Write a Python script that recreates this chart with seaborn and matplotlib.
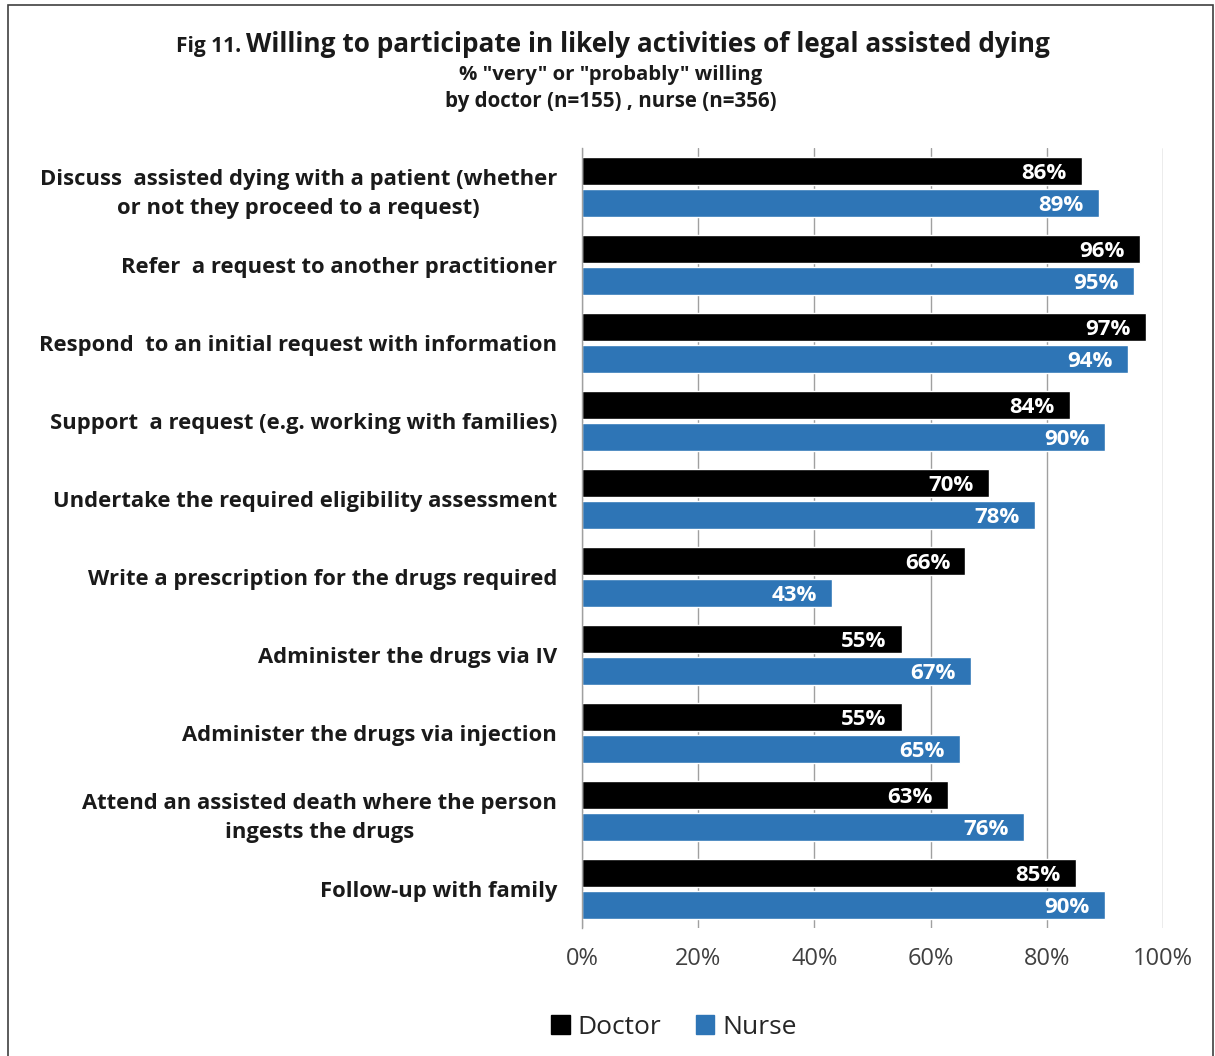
import matplotlib
matplotlib.use("Agg")
import matplotlib.pyplot as plt
import numpy as np
import pandas as pd
import seaborn as sns
from matplotlib.patches import Patch, Rectangle

categories = [
    "Discuss  assisted dying with a patient (whether\nor not they proceed to a request)",
    "Refer  a request to another practitioner",
    "Respond  to an initial request with information",
    "Support  a request (e.g. working with families)",
    "Undertake the required eligibility assessment",
    "Write a prescription for the drugs required",
    "Administer the drugs via IV",
    "Administer the drugs via injection",
    "Attend an assisted death where the person\ningests the drugs",
    "Follow-up with family",
]
doctor = [86, 96, 97, 84, 70, 66, 55, 55, 63, 85]
nurse = [89, 95, 94, 90, 78, 43, 67, 65, 76, 90]
groups = ["Doctor", "Nurse"]
colors = ["#000000", "#2E75B6"]
xticks = [0, 20, 40, 60, 80, 100]

sns.set_theme(style="white")
plt.rcParams["font.family"] = ["Open Sans", "DejaVu Sans"]

df = pd.DataFrame({
    "Activity": categories * 2,
    "Group": [groups[0]] * len(categories) + [groups[1]] * len(categories),
    "Percent": doctor + nurse,
})

fig = plt.figure(figsize=(12.15, 10.56), dpi=100)
ax = fig.add_axes([582 / 1215, 1 - 928 / 1056, (1163 - 582) / 1215, (928 - 148) / 1056])

sns.barplot(
    data=df, y="Activity", x="Percent", hue="Group", orient="h",
    palette=colors, width=0.82, gap=0.12, legend=False, ax=ax, saturation=1,
)

# value labels inside bar ends
for cont in ax.containers:
    for bar in cont:
        w = bar.get_width()
        ax.annotate(
            f"{w:.0f}%",
            (w, bar.get_y() + bar.get_height() / 2),
            xytext=(-11, -2), textcoords="offset points",
            ha="right", va="center", color="white",
            fontsize=16, fontweight="bold",
        )

ax.set_xlim(0, 100)
ax.set_xticks(xticks)
ax.set_xticklabels([f"{t}%" for t in xticks], fontsize=17, color="#404040")
ax.set_xlabel("")
ax.set_ylabel("")
ax.tick_params(axis="x", length=0, pad=14)
ax.tick_params(axis="y", length=0, pad=18)
for lab in ax.get_yticklabels():
    lab.set_fontsize(15.8)
    lab.set_fontweight("bold")
    lab.set_color("#1a1a1a")
    lab.set_multialignment("center")
    lab.set_linespacing(1.55)

ax.xaxis.grid(True, color="#a0a0a0", linewidth=1)
ax.set_axisbelow(True)
for s in ["top", "right", "bottom"]:
    ax.spines[s].set_visible(False)
ax.spines["left"].set_color("#a0a0a0")
ax.spines["left"].set_linewidth(1)

# titles
fig.text(241 / 1215, 1 - 52 / 1056, "Fig 11.", ha="right", va="baseline",
         fontsize=15, fontweight="bold", color="#1a1a1a")
fig.text(246 / 1215, 1 - 52 / 1056,
         "Willing to participate in likely activities of legal assisted dying",
         ha="left", va="baseline", fontsize=18.9, fontweight="bold", color="#1a1a1a")
fig.text(611 / 1215, 1 - 75 / 1056, '% "very" or "probably" willing',
         ha="center", va="center", fontsize=14.7, fontweight="bold", color="#1a1a1a")
fig.text(611 / 1215, 1 - 102 / 1056, "by doctor (n=155) , nurse (n=356)",
         ha="center", va="center", fontsize=14.8, fontweight="bold", color="#1a1a1a")

handles = [Patch(facecolor=c, edgecolor=c, label=g) for g, c in zip(groups, colors)]
fig.legend(handles=handles, loc="center", bbox_to_anchor=(674 / 1215, 1 - 1027 / 1056),
           ncol=2, frameon=False, fontsize=19, handlelength=0.7, handleheight=0.7,
           handletextpad=0.3, columnspacing=1.3)

fig.patches.append(Rectangle((8 / 1215, -0.01), (1213 - 8) / 1215, 1.01 - 5 / 1056,
                             transform=fig.transFigure, fill=False,
                             edgecolor="#404040", linewidth=1.2))

fig.savefig("out.png", dpi=100)
